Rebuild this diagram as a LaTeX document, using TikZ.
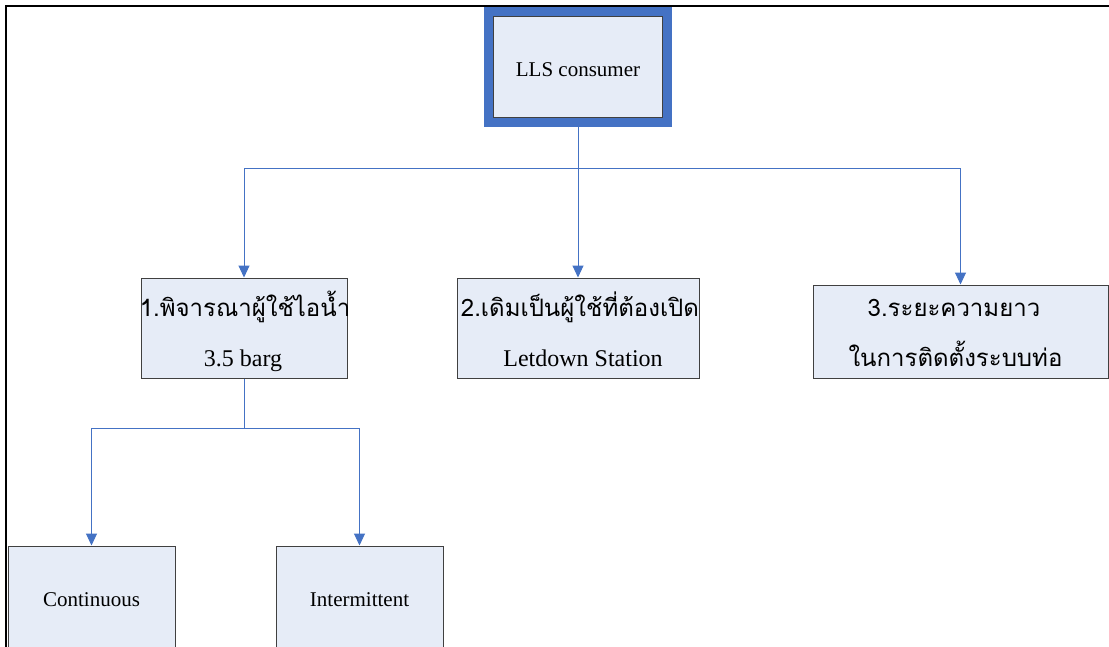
\documentclass[tikz,border=0pt]{standalone}
\usepackage{fontspec}
\setmainfont{Liberation Serif}
\newfontfamily\thaifont[Script=Thai]{Loma}
\usetikzlibrary{arrows.meta}
\definecolor{lineblue}{HTML}{4472C4}
\definecolor{boxfill}{HTML}{E6ECF7}
\definecolor{boxedge}{HTML}{404040}
\begin{document}
\begin{tikzpicture}[x=1pt,y=-1pt,
  box/.style={draw=boxedge, line width=1pt, fill=boxfill, rectangle, inner sep=0pt},
  link/.style={draw=lineblue, line width=1pt},
  arr/.style={link, -{Triangle[width=11pt,length=12pt]}},
  lat/.style={font=\fontsize{24}{28}\selectfont, inner sep=0pt, anchor=base},
  small/.style={font=\fontsize{21}{25}\selectfont},
  th/.style={font=\thaifont\fontsize{24}{28}\selectfont, inner sep=0pt, anchor=base}]
\useasboundingbox (0,0) rectangle (1109,646);
\clip (0,0) rectangle (1109,646);
\fill[white] (0,0) rectangle (1109,646);
% page frame
\draw[line width=2pt] (5.7,660) -- (5.7,6.3) -- (1120,6.3);

% root
\node[box, small, minimum width=169.4, minimum height=101.3, text height=20pt,
      preaction={draw=lineblue, line width=18.6pt}] (top) at (578,66.7) {LLS consumer};

% second level
\node[box, minimum width=206, minimum height=100] (b1) at (244,328) {};
\node[box, minimum width=242, minimum height=100] (b2) at (578,328) {};
\node[box, minimum width=295, minimum height=93] (b3) at (960.5,331.5) {};

\node[th] (b1a) at (245,316) {1.พิจารณาผู้ใช้ไอน้ำ};
\node[lat] (b1b) at (243,366) {3.5 barg};
\node[th] (b2a) at (580,316) {2.เดิมเป็นผู้ใช้ที่ต้องเปิด};
\node[lat] (b2b) at (583,366) {Letdown Station};
\node[th] (b3a) at (954,316) {3.ระยะความยาว};
\node[th] (b3b) at (955.5,366) {ในการติดตั้งระบบท่อ};

% third level
\node[box, small, minimum width=167, minimum height=108] (c1) at (91.5,600) {Continuous};
\node[box, small, minimum width=167, minimum height=108] (c2) at (359.5,600) {Intermittent};

% connectors
\coordinate (hub) at (578,168);
\coordinate (hub2) at (244,428);
\draw[link] (top) -- (hub);
\draw[arr] (hub) -| (b1);
\draw[arr] (hub) -- (b2);
\draw[arr] (hub) -| (b3);
\draw[link] (b1) -- (hub2);
\draw[arr] (hub2) -| (c1);
\draw[arr] (hub2) -| (c2);
\end{tikzpicture}
\end{document}
